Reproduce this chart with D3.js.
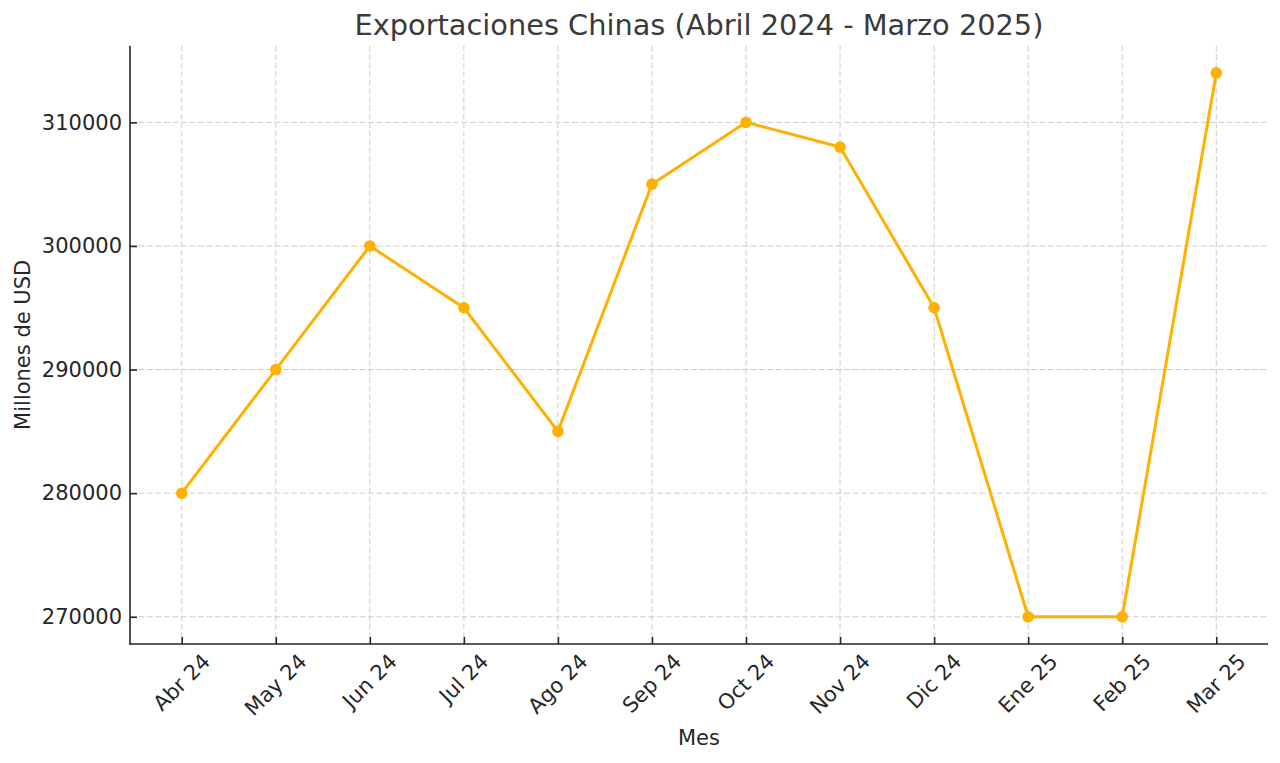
<!DOCTYPE html>
<html>
<head>
<meta charset="utf-8">
<script src="https://cdn.jsdelivr.net/npm/d3@7"></script>
<style>
  html, body { margin: 0; padding: 0; background: #fff; }
  svg { display: block; font-family: "DejaVu Sans", sans-serif; }
</style>
</head>
<body>
<svg id="chart" width="1280" height="763"></svg>
<script>
const months = ["Abr 24", "May 24", "Jun 24", "Jul 24", "Ago 24", "Sep 24", "Oct 24", "Nov 24", "Dic 24", "Ene 25", "Feb 25", "Mar 25"];
const exportValues = [280000, 290000, 300000, 295000, 285000, 305000, 310000, 308000, 295000, 270000, 270000, 314000];
const yTicks = [270000, 280000, 290000, 300000, 310000];
const titleText = "Exportaciones Chinas (Abril 2024 - Marzo 2025)";
const xLabelText = "Mes";
const yLabelText = "Millones de USD";

(function () {
const svg = d3.select("#chart");
const pLeft = 130, pRight = 1268, pTop = 45.7, pBottom = 644;
const lineColor = "#ffb000";
const textColor = "#262626";
const fs = 21;

const x = d3.scalePoint().domain(months).range([pLeft, pRight]).padding(0.55);
const yMin = d3.min(exportValues), yMax = d3.max(exportValues);
const m = (yMax - yMin) * 0.05;
const y = d3.scaleLinear().domain([yMin - m, yMax + m]).range([pBottom, pTop]);

// grid
const grid = svg.append("g");
grid.selectAll("line.vx").data(months).enter().append("line")
  .attr("x1", d => x(d)).attr("x2", d => x(d))
  .attr("y1", pTop).attr("y2", pBottom)
  .attr("stroke", "#cccccc").attr("stroke-width", 1).attr("stroke-dasharray", "5.9,2.6");
grid.selectAll("line.hy").data(yTicks).enter().append("line")
  .attr("x1", pLeft).attr("x2", pRight)
  .attr("y1", d => y(d)).attr("y2", d => y(d))
  .attr("stroke", "#cccccc").attr("stroke-width", 1).attr("stroke-dasharray", "5.9,2.6");

// axes (ticks inward)
const xAxis = d3.axisBottom(x).tickSize(-7).tickPadding(0).tickFormat("");
const gx = svg.append("g").attr("transform", `translate(0,${pBottom})`).call(xAxis);
gx.select(".domain").remove();
gx.selectAll(".tick line").attr("stroke", textColor).attr("stroke-width", 1.6);

const yAxis = d3.axisLeft(y).tickValues(yTicks).tickSize(-7).tickPadding(7).tickFormat(d3.format("d"));
const gy = svg.append("g").attr("transform", `translate(${pLeft},0)`).call(yAxis);
gy.select(".domain").remove();
gy.selectAll(".tick line").attr("stroke", textColor).attr("stroke-width", 1.6);
gy.selectAll(".tick text").attr("font-size", fs).attr("fill", textColor)
  .attr("font-family", "DejaVu Sans").attr("x", -8);

// spines
svg.append("line").attr("x1", pLeft).attr("x2", pLeft).attr("y1", pTop).attr("y2", pBottom + 0.8)
  .attr("stroke", textColor).attr("stroke-width", 1.6);
svg.append("line").attr("x1", pLeft - 0.8).attr("x2", pRight).attr("y1", pBottom).attr("y2", pBottom)
  .attr("stroke", textColor).attr("stroke-width", 1.6);

// rotated x tick labels (ha=center, rotation=45)
const h = fs * 1.05, labelTop = pBottom + 6;
const xl = svg.append("g");
months.forEach(mo => {
  const t = xl.append("text").text(mo)
    .attr("font-size", fs).attr("fill", textColor)
    .attr("text-anchor", "middle").attr("dominant-baseline", "central");
  const L = t.node().getComputedTextLength();
  const half = (L + h) / (2 * Math.SQRT2);
  t.attr("transform", `translate(${x(mo)},${labelTop + half}) rotate(-45)`);
});

// line + markers
const line = d3.line().x((d, i) => x(months[i])).y(d => y(d));
svg.append("path").datum(exportValues).attr("d", line)
  .attr("fill", "none").attr("stroke", lineColor).attr("stroke-width", 3)
  .attr("stroke-linejoin", "round");
svg.selectAll("circle.pt").data(exportValues).enter().append("circle")
  .attr("cx", (d, i) => x(months[i])).attr("cy", d => y(d)).attr("r", 5.8)
  .attr("fill", lineColor);

// title & labels
svg.append("text").text(titleText)
  .attr("x", (pLeft + pRight) / 2).attr("y", 35)
  .attr("text-anchor", "middle").attr("font-size", 28.8).attr("fill", "#3a3a3a");
svg.append("text").text(xLabelText)
  .attr("x", (pLeft + pRight) / 2).attr("y", 745)
  .attr("text-anchor", "middle").attr("font-size", fs).attr("fill", textColor);
svg.append("text").text(yLabelText)
  .attr("transform", `translate(30,${(pTop + pBottom) / 2}) rotate(-90)`)
  .attr("text-anchor", "middle").attr("font-size", fs).attr("fill", textColor);
})();
</script>
</body>
</html>
